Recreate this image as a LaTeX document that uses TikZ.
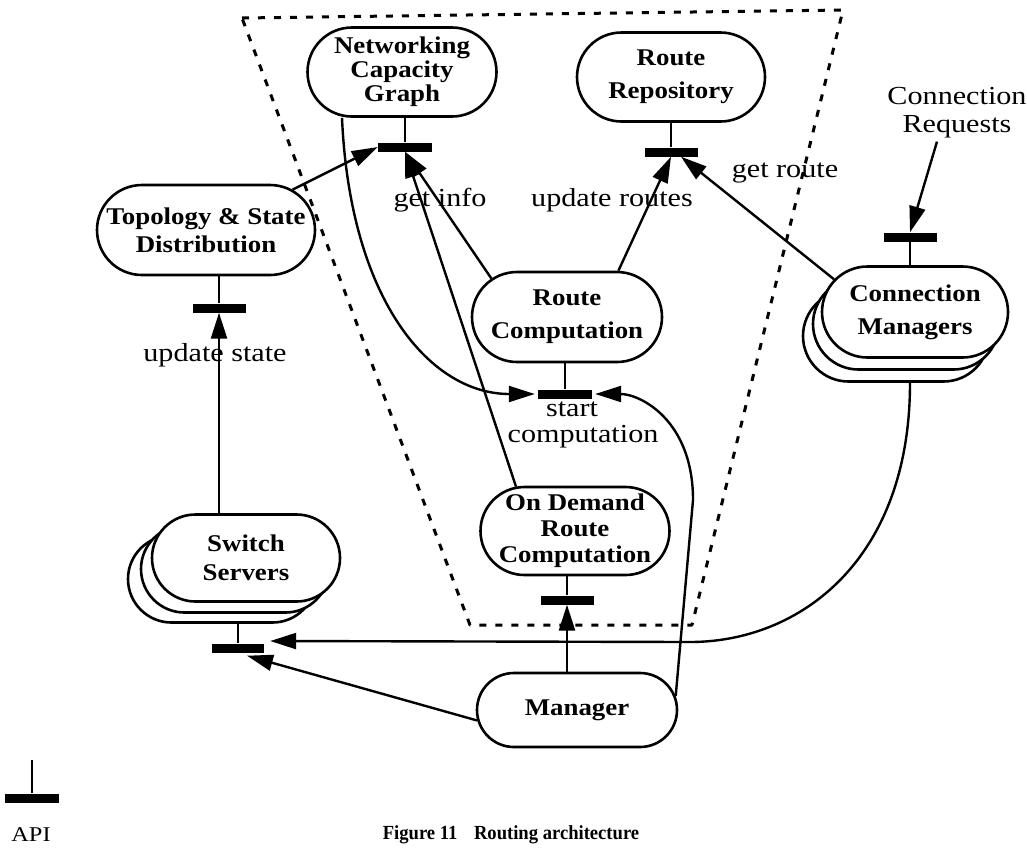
\documentclass[tikz,border=0pt]{standalone}
\usepackage{fontspec}
\setmainfont{Liberation Serif}
\newfontfamily\procfont{Liberation Serif}[FakeStretch=1.12]
\newfontfamily\labelfont{Liberation Serif}[FakeStretch=1.16]
\newfontfamily\captionfont{Liberation Serif}[FakeStretch=0.93]
\usetikzlibrary{arrows.meta,shapes.misc,calc}
\begin{document}
\begin{tikzpicture}[x=1pt,y=-1pt,
  proc/.style={rounded rectangle, draw, line width=2.6pt, fill=white, inner sep=0pt},
  ptext/.style={font=\procfont\bfseries\fontsize{24}{#1}\selectfont, align=center, inner sep=0pt},
  apibar/.style={rectangle, fill=black, inner sep=0pt, minimum width=53pt, minimum height=9pt},
  link/.style={line width=2.4pt},
  arr/.style={link, -{Triangle[length=26pt,width=16pt]}},
  lbl/.style={font=\labelfont\fontsize{26}{26}\selectfont, align=center, inner sep=0pt},
  boundary/.style={line width=3pt, dash pattern=on 7pt off 9pt, line join=round}
]
\useasboundingbox (0,0) rectangle (1027,849);

% processes
\node[proc, minimum width=189pt, minimum height=89pt] (ncg) at (402,72) {};
\node[ptext=24pt] (ncgt) at (ncg) {Networking\\Capacity\\Graph};
\node[proc, minimum width=188pt, minimum height=89pt] (rr) at (671,77) {};
\node[ptext=33pt] (rrt) at (rr) {Route\\Repository};
\node[proc, minimum width=218pt, minimum height=90pt] (tsd) at (206,230) {};
\node[ptext=28pt] (tsdt) at (tsd) {Topology \& State\\Distribution};
\node[proc, minimum width=190pt, minimum height=90pt] (rc) at (567,317) {};
\node[ptext=33pt] (rct) at (rc) {Route\\Computation};

% stacked connection managers
\node[proc, minimum width=186pt, minimum height=91pt] (cm3) at (896,336) {};
\node[proc, minimum width=186pt, minimum height=91pt] (cm2) at (906,324) {};
\node[proc, minimum width=186pt, minimum height=91pt] (cm) at (915,312) {};
\node[ptext=33pt] (cmt) at (cm) {Connection\\Managers};

\node[proc, minimum width=189pt, minimum height=88pt] (odrc) at (575,531) {};
\node[ptext=26pt] (odrct) at (odrc) {On Demand\\Route\\Computation};
\node[proc, minimum width=200pt, minimum height=74pt] (mgr) at (577,710) {};
\node[ptext=25pt] (mgrt) at (mgr) {Manager};

% stacked switch servers
\node[proc, minimum width=188pt, minimum height=87pt] (ss3) at (222,579) {};
\node[proc, minimum width=188pt, minimum height=87pt] (ss2) at (235,569) {};
\node[proc, minimum width=188pt, minimum height=87pt] (ss) at (246,558) {};
\node[ptext=29pt] (sst) at (ss) {Switch\\Servers};

% interface bars
\node[apibar, minimum width=54pt] (bncg) at (405,147) {};
\node[apibar] (brr) at (671,152) {};
\node[apibar] (btsd) at (219,308) {};
\node[apibar, minimum width=54pt] (brc) at (565,394) {};
\node[apibar] (bcm) at (910,237) {};
\node[apibar] (bodrc) at (567,600) {};
\node[apibar, minimum width=52pt] (bss) at (238,648) {};

% stems from processes to their interfaces
\draw[link] (bncg.north) -- (bncg.north |- ncg.south);
\draw[link] (brr.north) -- (brr.north |- rr.south);
\draw[link] (btsd.north) -- (btsd.north |- tsd.south);
\draw[link] (brc.north) -- (brc.north |- rc.south);
\draw[link] (bcm.south) -- (bcm.south |- cm.north);
\draw[link] (bodrc.north) -- (bodrc.north |- odrc.south);
\draw[link] (bss.north) -- (bss.north |- ss3.south);

% labels
\node[lbl] (getinfo) at (440,200) {get info};
\node[lbl] (updroutes) at (612,200) {update routes};
\node[lbl] (getroute) at (785,173) {get route};
\node[lbl] (updstate) at (215,355) {update state};
\node[lbl, anchor=base] (start) at (572,416) {start};
\node[lbl, anchor=base] (comp) at (583,442) {computation};
\node[lbl, font=\labelfont\fontsize{26}{28}\selectfont] (creq) at (957,113) {Connection\\Requests};

% interactions
\draw[arr] (tsd.25) -- (bncg.west);
\draw[arr] (rc.153) -- (bncg.south);
\draw[arr] (odrc.143) -- (bncg.south);
\draw[arr] (rc.42) -- (brr.south);
\draw[arr] (cm.158) -- ($(brr.south)+(10,0)$);
\draw[arr] ($(creq.south)+(-20,3)$) -- (bcm.north);
\draw[arr] (ss.north -| btsd.south) -- (btsd.south);
\draw[arr] ($(ncg.south)+(-60,0)$) .. controls (350,300) and (430,394) .. ($(brc.west)+(-3,0)$);
\coordinate (mgrkink) at (693,500);
\draw[arr] (mgr.8) -- (mgrkink) .. controls (693,420) and (640,394) .. ($(brc.east)+(3,0)$);
\coordinate (cmturn) at (690,642);
\draw[arr] ($(cm3.south)+(14,0)$) .. controls (910,560) and (800,642) .. (cmturn) -- ($(bss.east)+(6,-7)$);
\draw[arr] (mgr.186) -- ($(bss.south)+(9,3)$);
\draw[arr] (bodrc.south |- mgr.north) -- (bodrc.south);

% boundary of the routing subsystem
\draw[boundary] (242,18) -- (843,10) -- (692,625) -- (470,625) -- cycle;

% legend and caption
\node[apibar, minimum width=54pt] (bapi) at (32,798) {};
\draw[link] (bapi.north) -- ++(0,-33);
\node[font=\labelfont\fontsize{21}{22}\selectfont, inner sep=0pt] (api) at (31,835) {API};
\node[font=\captionfont\bfseries\fontsize{20}{22}\selectfont, inner sep=0pt] (caption) at (511,835) {Figure 11\hspace{0.6em} Routing architecture};
\end{tikzpicture}
\end{document}
